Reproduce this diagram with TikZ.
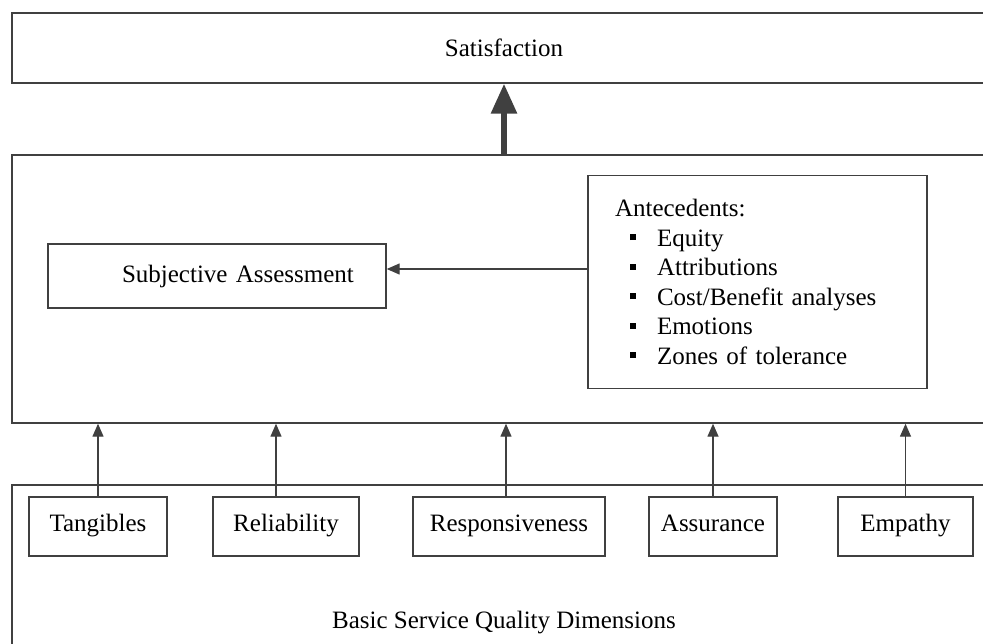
\documentclass[tikz,border=0pt]{standalone}
\usepackage{fontspec}
\setmainfont{Liberation Serif}
\usetikzlibrary{arrows.meta}
\tikzstyle{panel} = [rectangle, draw=black!75, line width=0.7pt, inner sep=0pt, font=\fontsize{12.5pt}{14.75pt}\selectfont]
\tikzstyle{dimbox} = [rectangle, draw=black!75, line width=0.7pt, minimum height=29.5pt, inner sep=0pt,
    text height=0.68em, text depth=0.22em, font=\fontsize{12.5pt}{14.75pt}\selectfont]
\tikzstyle{arrow} = [draw=black!75, line width=0.7pt, -{Triangle[length=6.5pt,width=5.5pt]}]
\tikzstyle{bigarrow} = [draw=black!75, line width=3pt, -{Triangle[length=15pt,width=12.5pt]}]
\newcommand{\sqitem}{\hspace*{7.5pt}\rule[0.25em]{3pt}{3pt}\hspace*{10.5pt}}

\begin{document}
\begin{tikzpicture}[x=0.5pt,y=-0.5pt]
                        \useasboundingbox (0,0) rectangle (983,643);
                        \clip (0,0) rectangle (983,643);
                        \node[panel, minimum width=492pt, minimum height=35pt]
                            (sat) at (504,48) {Satisfaction};
                        \node[panel, minimum width=492pt, minimum height=134pt]
                            (mid) at (504,289) {};
                        \node[panel, minimum width=492pt, minimum height=138pt]
                            (base) at (504,623) {Basic Service Quality Dimensions};
                        \node[panel, text width=149pt, inner xsep=10pt, minimum height=32pt, align=left]
                            (subj) at (217,276) {\hspace*{27pt}Subjective Assessment};
                        \node[panel, text width=142.5pt, inner xsep=13.5pt, minimum height=106.5pt, align=left]
                            (ante) at (757.5,282) {Antecedents:\\ \sqitem Equity\\ \sqitem Attributions\\
                            \sqitem Cost/Benefit analyses\\ \sqitem Emotions\\ \sqitem Zones of tolerance};
                        \node[dimbox, minimum width=69pt] (tang) at (98,526.5) {Tangibles};
                        \node[dimbox, minimum width=73pt] (rel) at (286,526.5) {Reliability};
                        \node[dimbox, minimum width=96pt] (resp) at (509,526.5) {Responsiveness};
                        \node[dimbox, minimum width=64pt] (assu) at (713,526.5) {Assurance};
                        \node[dimbox, minimum width=67.5pt] (emp) at (905.5,526.5) {Empathy};
                        \draw[bigarrow] (mid.north) -- (sat.south);
                        \draw[arrow] ([yshift=6.5pt]ante.west) -- ([yshift=6.5pt]ante.west -| subj.east);
                        \draw[arrow] (tang.north) -- (tang.north |- mid.south);
                        \draw[arrow] ([xshift=-5pt]rel.north) -- ([xshift=-5pt]rel.north |- mid.south);
                        \draw[arrow] ([xshift=-1.5pt]resp.north) -- ([xshift=-1.5pt]resp.north |- mid.south);
                        \draw[arrow] (assu.north) -- (assu.north |- mid.south);
                        \draw[arrow] (emp.north) -- (emp.north |- mid.south);
                    \end{tikzpicture}
\end{document}
